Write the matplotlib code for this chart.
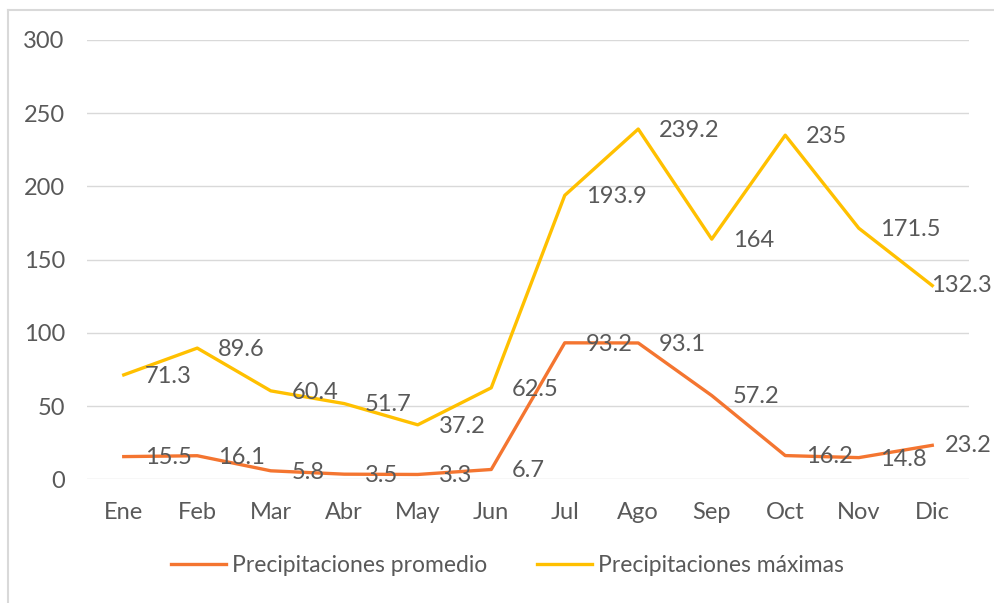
import matplotlib.pyplot as plt
from matplotlib.lines import Line2D

# --------------------------
# Data
# --------------------------
meses = ["Ene", "Feb", "Mar", "Abr", "May", "Jun",
         "Jul", "Ago", "Sep", "Oct", "Nov", "Dic"]
promedio = [15.5, 16.1, 5.8, 3.5, 3.3, 6.7, 93.2, 93.1, 57.2, 16.2, 14.8, 23.2]
maximas = [71.3, 89.6, 60.4, 51.7, 37.2, 62.5, 193.9, 239.2, 164, 235, 171.5, 132.3]
etiquetas_prom = ["15.5", "16.1", "5.8", "3.5", "3.3", "6.7",
                  "93.2", "93.1", "57.2", "16.2", "14.8", "23.2"]
etiquetas_max = ["71.3", "89.6", "60.4", "51.7", "37.2", "62.5",
                 "193.9", "239.2", "164", "235", "171.5", "132.3"]

naranja = "#F47530"
amarillo = "#FFC000"
gris = "#595959"

plt.rcParams['font.family'] = ['Lato', 'DejaVu Sans']

fig = plt.figure(figsize=(9.95, 6.03), dpi=100)
ax = fig.add_axes([87 / 995, 1 - 479.3 / 603, (969 - 87) / 995, (479.3 - 40) / 603])

x = list(range(len(meses)))
ax.plot(x, promedio, color=naranja, lw=2.4, solid_joinstyle="round",
        label="Precipitaciones promedio", zorder=3)
ax.plot(x, maximas, color=amarillo, lw=2.4, solid_joinstyle="round",
        label="Precipitaciones máximas", zorder=3)

# data labels to the right of each point; the last ones are pushed
# back inside the chart area like the spreadsheet does
for serie, etiquetas in ((promedio, etiquetas_prom), (maximas, etiquetas_max)):
    for xi, yi, t in zip(x, serie, etiquetas):
        if xi == x[-1]:
            ax.annotate(t, xy=(992 / 995, yi), xycoords=("figure fraction", "data"),
                        ha="right", va="center", fontsize=17, color=gris, zorder=4)
        else:
            ax.annotate(t, (xi, yi), xytext=(15, -1), textcoords="offset points",
                        ha="left", va="center", fontsize=17, color=gris, zorder=4)

ax.set_xlim(-0.5, 11.5)
ax.set_ylim(0, 300)
ax.set_yticks(range(0, 301, 50))
ax.set_xticks(x)
ax.set_xticklabels(meses)
ax.tick_params(axis="both", length=0, labelsize=17, labelcolor=gris)
ax.tick_params(axis="x", pad=16)
ax.tick_params(axis="y", pad=16)
ax.grid(axis="y", color="#D9D9D9", lw=1)
ax.set_axisbelow(True)
for s in ax.spines.values():
    s.set_visible(False)

ax.legend(loc="center", bbox_to_anchor=(507.5 / 995, 1 - 566 / 603),
          bbox_transform=fig.transFigure, ncol=2, frameon=False,
          fontsize=16.5, labelcolor=gris, handlelength=2.4, handletextpad=0.25,
          columnspacing=2.2, borderpad=0, borderaxespad=0)

# chart border (only top and left visible in the crop)
fig.add_artist(Line2D([8 / 995, 1], [1 - 10 / 603, 1 - 10 / 603],
                      transform=fig.transFigure, color="#D9D9D9", lw=1.5))
fig.add_artist(Line2D([8 / 995, 8 / 995], [0, 1 - 10 / 603],
                      transform=fig.transFigure, color="#D9D9D9", lw=1.5))

fig.savefig("out.png", dpi=100)
